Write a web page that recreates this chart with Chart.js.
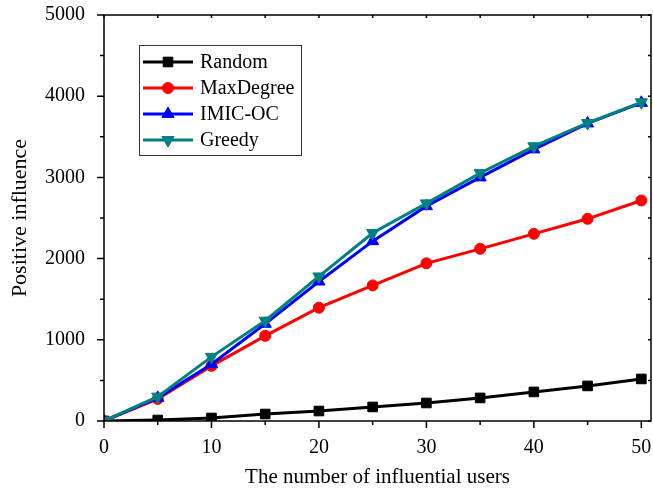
<!DOCTYPE html>
<html>
<head>
<meta charset="utf-8">
<script src="https://cdn.jsdelivr.net/npm/chart.js@4.4.1/dist/chart.umd.min.js"></script>
<style>
    html, body { margin: 0; padding: 0; background: #fff; }
    canvas { display: block; }
</style>
</head>
<body>
<canvas id="chart" width="653" height="488"></canvas>
<script>
const usersCount = [0, 5, 10, 15, 20, 25, 30, 35, 40, 45, 50];

const randomVals    = [0, 12, 37, 86, 123, 173, 222, 284, 358, 432, 518];
const maxDegreeVals = [0, 272, 679, 1049, 1395, 1670, 1942, 2120, 2305, 2490, 2716];
const imicOcVals    = [0, 285, 700, 1197, 1718, 2215, 2646, 3000, 3345, 3665, 3918];
const greedyVals    = [0, 300, 790, 1235, 1780, 2315, 2680, 3053, 3383, 3670, 3925];

const xTicks = [0, 10, 20, 30, 40, 50];
const yTicks = [0, 1000, 2000, 3000, 4000, 5000];

const serif = 'Liberation Serif';

function toPoints(values) {
    return values.map((v, i) => ({ x: usersCount[i], y: v }));
}

// рамка вокруг области графика + засечки как в Origin
const framePlugin = {
    id: 'frame',
    afterDatasetsDraw(chart) {
        const { ctx, chartArea: a, scales: { x, y } } = chart;
        ctx.save();
        ctx.strokeStyle = '#000';
        ctx.lineWidth = 1.5;
        ctx.strokeRect(a.left, a.top, a.right - a.left, a.bottom - a.top);

        ctx.beginPath();
        xTicks.forEach(v => {
            const px = x.getPixelForValue(v);
            ctx.moveTo(px, a.bottom); ctx.lineTo(px, a.bottom + 7);
            ctx.moveTo(px, a.top); ctx.lineTo(px, a.top + 3);
            if (v + 5 <= 50) {
                const mx = x.getPixelForValue(v + 5);
                ctx.moveTo(mx, a.bottom); ctx.lineTo(mx, a.bottom + 4);
                ctx.moveTo(mx, a.top); ctx.lineTo(mx, a.top + 3);
            }
        });
        yTicks.forEach(v => {
            const py = y.getPixelForValue(v);
            ctx.moveTo(a.left, py); ctx.lineTo(a.left - 7, py);
            ctx.moveTo(a.right, py); ctx.lineTo(a.right - 3, py);
            if (v + 500 <= 5000) {
                const my = y.getPixelForValue(v + 500);
                ctx.moveTo(a.left, my); ctx.lineTo(a.left - 4, my);
                ctx.moveTo(a.right, my); ctx.lineTo(a.right - 3, my);
            }
        });
        ctx.stroke();
        ctx.restore();
    },
    afterDraw(chart) {
        // легенда в рамке внутри области графика
        const ctx = chart.ctx;
        const boxX = 139, boxY = 45, boxW = 162, boxH = 110;
        ctx.save();
        ctx.strokeStyle = '#333';
        ctx.lineWidth = 1;
        ctx.strokeRect(boxX + 0.5, boxY + 0.5, boxW, boxH);
        ctx.font = `20px "${serif}"`;
        ctx.textBaseline = 'middle';
        ctx.textAlign = 'left';
        chart.data.datasets.forEach((ds, i) => {
            const cy = 62 + i * 26;
            ctx.strokeStyle = ds.borderColor;
            ctx.lineWidth = 3;
            ctx.beginPath();
            ctx.moveTo(143, cy);
            ctx.lineTo(193, cy);
            ctx.stroke();
            ctx.fillStyle = ds.borderColor;
            ctx.strokeStyle = ds.borderColor;
            ctx.lineWidth = 1;
            Chart.helpers.drawPoint(ctx, {
                pointStyle: ds.pointStyle,
                radius: ds.pointRadius,
                rotation: ds.pointRotation || 0,
                borderWidth: 1
            }, 168, cy);
            ctx.fillStyle = '#000';
            ctx.fillText(ds.label, 200, cy + 1);
        });
        ctx.restore();
    }
};

const ctx = document.getElementById('chart').getContext('2d');

new Chart(ctx, {
    type: 'line',
    data: {
        datasets: [
            {
                label: 'Random',
                data: toPoints(randomVals),
                borderColor: '#000000',
                backgroundColor: '#000000',
                pointStyle: 'rect',
                pointRadius: 6.8,
                order: 3
            },
            {
                label: 'MaxDegree',
                data: toPoints(maxDegreeVals),
                borderColor: '#ff0000',
                backgroundColor: '#ff0000',
                pointStyle: 'circle',
                pointRadius: 5.5,
                order: 2
            },
            {
                label: 'IMIC-OC',
                data: toPoints(imicOcVals),
                borderColor: '#0000ff',
                backgroundColor: '#0000ff',
                pointStyle: 'triangle',
                pointRadius: 7,
                order: 1
            },
            {
                label: 'Greedy',
                data: toPoints(greedyVals),
                borderColor: '#008080',
                backgroundColor: '#008080',
                pointStyle: 'triangle',
                pointRotation: 180,
                pointRadius: 7,
                order: 0
            }
        ]
    },
    options: {
        responsive: false,
        animation: false,
        devicePixelRatio: 1,
        datasets: {
            line: { borderWidth: 3, pointBorderWidth: 1, tension: 0 }
        },
        layout: {
            autoPadding: false,
            padding: { top: 15, right: 2, left: 0, bottom: 0 }
        },
        plugins: {
            legend: { display: false },
            tooltip: { enabled: false }
        },
        scales: {
            x: {
                type: 'linear',
                min: 0,
                max: 50.9,
                afterFit: s => {
                    s.height = 67;
                    s.paddingLeft = 0;
                    s.paddingRight = 0;
                },
                afterBuildTicks: s => { s.ticks = xTicks.map(v => ({ value: v })); },
                grid: { display: false, drawTicks: false },
                border: { display: false },
                ticks: {
                    padding: 15,
                    color: '#000',
                    font: { family: serif, size: 20 },
                    callback: v => String(v)
                },
                title: {
                    display: true,
                    text: 'The number of influential users',
                    color: '#000',
                    font: { family: serif, size: 21, lineHeight: 1 },
                    padding: { top: 0, bottom: 0 }
                }
            },
            y: {
                min: 0,
                max: 5000,
                afterFit: s => {
                    s.width = 104;
                    s.paddingTop = 0;
                    s.paddingBottom = 0;
                },
                afterBuildTicks: s => { s.ticks = yTicks.map(v => ({ value: v })); },
                grid: { display: false, drawTicks: false },
                border: { display: false },
                ticks: {
                    padding: 19,
                    color: '#000',
                    font: { family: serif, size: 20 },
                    callback: v => String(v)
                },
                title: {
                    display: true,
                    text: 'Positive influence',
                    color: '#000',
                    font: { family: serif, size: 22, lineHeight: 1 },
                    padding: { top: 9.5, bottom: 0 }
                }
            }
        }
    },
    plugins: [framePlugin]
});
</script>
</body>
</html>
